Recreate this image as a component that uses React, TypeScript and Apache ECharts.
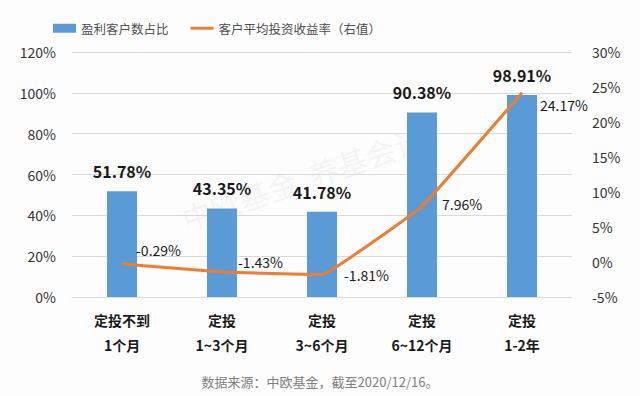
import React, { useEffect, useRef } from "react";
import * as echarts from "echarts";

const categories = ["定投不到\n1个月", "定投\n1~3个月", "定投\n3~6个月", "定投\n6~12个月", "定投\n1-2年"];
const profitRatio = [51.78, 43.35, 41.78, 90.38, 98.91];
const avgReturn = [-0.29, -1.43, -1.81, 7.96, 24.17];
const lineLabelOffsets = [[0, -14], [2, -10], [8, 0], [6, -2], [4, 12]];

const FONT = "'Noto Sans CJK SC', 'Noto Sans', sans-serif";

export default function App() {
  const ref = useRef<HTMLDivElement>(null);
  useEffect(() => {
    const chart = echarts.init(ref.current!, null, { renderer: "svg" });
    chart.setOption({
      animation: false,
      backgroundColor: "#fdfdfd",
      textStyle: { fontFamily: FONT },
      legend: {
        top: 17,
        left: 48,
        itemGap: 22,
        itemWidth: 23,
        itemHeight: 9,
        textStyle: { fontSize: 12.5, color: "#4d4d4d", fontFamily: FONT },
        data: [
          { name: "盈利客户数占比", icon: "rect" },
          { name: "客户平均投资收益率（右值）", icon: "path://M0 0H24V3H0Z" },
        ],
      },
      grid: { left: 72, right: 68, top: 52, bottom: 99 },
      xAxis: {
        type: "category",
        data: categories,
        axisLine: { show: true, lineStyle: { color: "#d9d9d9" } },
        axisTick: { show: false },
        axisLabel: {
          margin: 10,
          fontSize: 14,
          fontWeight: "bold",
          color: "#1a1a1a",
          lineHeight: 25,
          fontFamily: FONT,
        },
      },
      yAxis: [
        {
          type: "value",
          min: 0,
          max: 120,
          interval: 20,
          axisLabel: { formatter: "{value}%", fontSize: 14, color: "#333", margin: 16, fontFamily: FONT },
          splitLine: { lineStyle: { color: "#d9d9d9" } },
          axisLine: { show: false },
          axisTick: { show: false },
        },
        {
          type: "value",
          min: -5,
          max: 30,
          interval: 5,
          axisLabel: { formatter: "{value}%", fontSize: 14, color: "#333", margin: 20, fontFamily: FONT },
          splitLine: { show: false },
          axisLine: { show: false },
          axisTick: { show: false },
        },
      ],
      graphic: [
        {
          type: "text",
          x: 178,
          y: 205,
          rotation: 0.33,
          style: {
            text: "中欧基金  养基会计",
            fontSize: 30,
            fill: "rgba(190,190,190,0.16)",
            fontFamily: FONT,
          },
          z: 0,
        },
        {
          type: "text",
          left: "center",
          top: 375,
          style: {
            text: "数据来源：中欧基金，截至2020/12/16。",
            fontSize: 13,
            fill: "#7f7f7f",
            fontFamily: FONT,
          },
        },
      ],
      series: [
        {
          name: "盈利客户数占比",
          type: "bar",
          data: profitRatio,
          barWidth: 30,
          itemStyle: { color: "#5B9BD5" },
          label: {
            show: true,
            position: "top",
            distance: 12,
            formatter: (p: any) => p.value.toFixed(2) + "%",
            fontSize: 16,
            fontWeight: "bold",
            color: "#1a1a1a",
            fontFamily: FONT,
          },
        },
        {
          name: "客户平均投资收益率（右值）",
          type: "line",
          yAxisIndex: 1,
          smooth: 0.06,
          symbol: "circle",
          symbolSize: 0,
          showSymbol: true,
          lineStyle: { color: "#ED7D31", width: 3 },
          itemStyle: { color: "#ED7D31" },
          data: avgReturn.map((v, i) => ({
            value: v,
            label: { offset: lineLabelOffsets[i] },
          })),
          label: {
            show: true,
            position: "right",
            distance: 14,
            formatter: (p: any) => p.value.toFixed(2) + "%",
            fontSize: 14,
            color: "#1a1a1a",
            fontFamily: FONT,
          },
        },
      ],
    });
    return () => chart.dispose();
  }, []);
  return <div ref={ref} style={{ position: "fixed", left: 0, top: 0, width: 640, height: 396 }} />;
}
